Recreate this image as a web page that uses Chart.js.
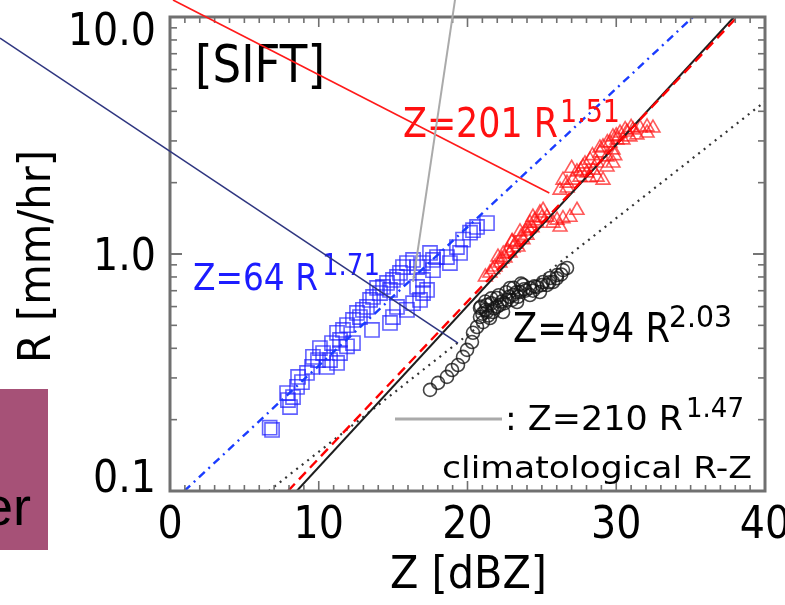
<!DOCTYPE html>
<html lang="en">
<head>
<meta charset="UTF-8">
<title>SIFT R-Z</title>
<script src="https://cdn.jsdelivr.net/npm/chart.js"></script>
<style>
  body { margin: 0; background: #fff; }
</style>
</head>
<body>
<canvas id="rzChart" width="785" height="605"></canvas>
<script>
    // Z [dBZ] / R [mm/hr] pairs per rain type
    const zBlue = [6.86,6.7,8.07,7.93,8.27,7.87,8.54,8.87,8.61,9.21,9.55,9.95,9.61,10.29,10.08,10.76,11.23,10.55,10.89,11.43,11.23,11.63,11.9,12.3,12.77,12.57,12.97,13.24,13.58,12.3,11.9,11.43,13.45,13.65,14.12,13.92,14.32,14.59,14.79,14.99,15.26,15.46,15.66,15.93,16.34,14.99,14.79,15.93,15.26,16.81,16.34,17.28,16.61,17.01,17.68,17.68,17.01,17.48,17.95,18.62,19.29,19.7,20.17,20.64,21.31,20.37,19.5,18.82,17.01,16.61];
    const rBlue = [0.181,0.185,0.226,0.242,0.249,0.259,0.275,0.288,0.303,0.315,0.334,0.357,0.368,0.382,0.401,0.357,0.347,0.334,0.421,0.434,0.465,0.478,0.501,0.527,0.542,0.564,0.581,0.598,0.478,0.421,0.408,0.382,0.64,0.659,0.684,0.719,0.726,0.755,0.705,0.777,0.8,0.832,0.881,0.916,0.944,0.542,0.512,0.581,0.598,0.64,0.62,0.705,0.881,0.916,0.944,0.855,0.777,1.01,0.971,0.971,1.07,1.15,1.23,1.3,1.35,1.26,1.01,0.916,0.684,0.726];

    const zRed = [21.51,21.85,22.18,22.52,22.05,22.86,23.06,23.39,22.99,23.73,24.0,23.53,24.34,24.67,24.4,24.87,25.08,25.34,26.02,26.42,26.89,27.36,26.22,25.75,26.22,26.69,27.09,26.42,27.56,27.36,28.03,27.76,28.44,28.24,28.71,29.11,28.91,29.38,29.11,29.58,29.78,30.05,29.38,29.78,28.71,30.25,30.72,31.13,31.6,32.07,32.47,30.92,31.39,30.45,29.78,32.07,21.2,22.4,23.2,23.9,24.2,
                  21.7,22.3,22.7,23.0,23.6,24.1,24.5,25.0,27.0,27.9,28.4,28.9,29.4,30.0,30.6,31.0,27.6,28.2,26.7,29.9];
    const rRed = [0.832,0.881,0.916,0.963,0.971,1.01,1.06,1.07,1.12,1.15,1.2,1.24,1.29,1.35,1.43,1.49,1.53,1.43,1.39,1.41,1.43,1.53,1.3,1.35,1.86,1.99,2.05,2.05,2.11,2.22,2.2,2.33,2.26,2.49,2.42,2.05,2.67,2.57,2.83,2.94,2.75,3.03,2.33,2.42,2.11,3.24,3.27,3.34,3.4,3.44,3.4,3.12,3.18,3.03,3.12,3.24,0.8,1.0,1.1,1.25,1.35,
                  0.86,0.95,1.03,1.13,1.18,1.28,1.38,1.42,2.3,2.4,2.6,2.8,2.95,3.15,3.35,3.42,2.25,2.1,1.9,2.6];

    const zBlack = [17.48,18.02,18.62,18.96,19.36,19.7,19.97,20.3,20.37,20.64,20.84,20.84,21.31,21.71,22.18,22.66,23.06,23.53,24.2,24.67,25.08,25.55,26.02,26.42,26.69,21.98,22.86,23.73,21.51,22.39,23.33,24.2,24.87,25.34,25.75,21.04,21.2,21.6,22.0,22.5,23.0,23.4,23.9,24.4,25.0,25.5,26.0,26.3,21.0,21.4,
                    21.3,21.8,22.3,22.8,23.3,23.8,24.5,21.6,22.1,22.6,23.1,23.6,20.9,21.2];
    const rBlack = [0.267,0.286,0.303,0.324,0.34,0.368,0.394,0.425,0.465,0.492,0.542,0.592,0.61,0.569,0.61,0.64,0.671,0.691,0.719,0.726,0.762,0.792,0.815,0.855,0.873,0.652,0.719,0.74,0.537,0.569,0.627,0.671,0.691,0.74,0.762,0.516,0.58,0.62,0.6,0.62,0.64,0.66,0.7,0.7,0.74,0.76,0.79,0.82,0.56,0.55,
                    0.57,0.59,0.63,0.66,0.69,0.71,0.73,0.65,0.67,0.69,0.72,0.75,0.6,0.63];

    // fitted power laws, end points inside the frame
    const fitBlueZ = [0.96, 35.16],  fitBlueR = [0.1, 10];    // Z=64 R^1.71
    const fitRedZ = [7.93, 38.13],   fitRedR = [0.1, 10];     // Z=201 R^1.51
    const fitBlackZ = [6.64, 40],    fitBlackR = [0.1, 4.4];  // Z=494 R^2.03
    const climZ = [8.52, 37.92],     climR = [0.1, 10];       // Z=210 R^1.47

    const xTicks = [0, 10, 20, 30, 40];
    const yTicks = [0.1, 1, 10];
    const yTickText = ['0.1', '1.0', '10.0'];

    // pointer lines (from, to) in Z / R
    const pointers = [
        { from: [0.2, 11.8], to: [25.5, 1.81], color: '#ff1a1a', w: 1.6 },
        { from: [-11.43, 8.15], to: [19.36, 0.421], color: '#2f3680', w: 1.6 },
        { from: [19.16, 11.8], to: [16.34, 0.762], color: '#aaaaaa', w: 2 }
    ];

    function pts(zs, rs) {
        return zs.map(function (z, i) { return { x: z, y: rs[i] }; });
    }

    const FONT = '"DejaVu Sans"';

    // draw text squeezed/stretched to a given width
    function textW(ctx, str, x, y, size, width, color) {
        ctx.save();
        ctx.font = size + 'px ' + FONT;
        const w = ctx.measureText(str).width;
        ctx.translate(x, y);
        ctx.scale(width / w, 1);
        ctx.fillStyle = color || '#000';
        ctx.textAlign = 'left';
        ctx.textBaseline = 'alphabetic';
        ctx.fillText(str, 0, 0);
        ctx.restore();
    }

    // draw text with a fixed horizontal scale, aligned left/center/right
    function textS(ctx, str, x, y, size, sx, align) {
        ctx.save();
        ctx.font = size + 'px ' + FONT;
        const w = ctx.measureText(str).width * sx;
        let x0 = x;
        if (align === 'center') x0 = x - w / 2;
        if (align === 'right') x0 = x - w;
        ctx.translate(x0, y);
        ctx.scale(sx, 1);
        ctx.fillStyle = '#000';
        ctx.textBaseline = 'alphabetic';
        ctx.fillText(str, 0, 0);
        ctx.restore();
    }

    function seg(ctx, x1, y1, x2, y2) {
        ctx.beginPath();
        ctx.moveTo(x1, y1);
        ctx.lineTo(x2, y2);
        ctx.stroke();
    }

    const frame = {
        id: 'frame',
        afterDatasetsDraw: function (chart) {
            const ctx = chart.ctx, a = chart.chartArea;
            const x = chart.scales.x, y = chart.scales.y;
            ctx.save();
            ctx.strokeStyle = '#707070';
            ctx.lineWidth = 1.6;
            // inward ticks, every 1 dBZ
            for (let v = 0; v <= 40; v++) {
                const px = x.getPixelForValue(v);
                const len = v % 10 ? 6 : 10;
                seg(ctx, px, a.bottom, px, a.bottom - len);
                seg(ctx, px, a.top, px, a.top + len);
            }
            // log ticks on both sides
            [0.1, 1].forEach(function (d) {
                for (let k = 1; k <= 10; k++) {
                    const py = y.getPixelForValue(d * k);
                    const len = (k === 1 || k === 10) ? 12 : 7;
                    seg(ctx, a.left, py, a.left + len, py);
                    seg(ctx, a.right, py, a.right - len, py);
                }
            });
            ctx.lineWidth = 3;
            ctx.strokeRect(a.left, a.top, a.width, a.height);
            ctx.restore();
        },
        afterDraw: function (chart) {
            const ctx = chart.ctx, a = chart.chartArea;
            const x = chart.scales.x, y = chart.scales.y;

            // tick labels; end labels nudged toward the middle
            xTicks.forEach(function (v) {
                textS(ctx, String(v), x.getPixelForValue(v), a.bottom + 47, 44, 0.9, 'center');
            });
            const nudge = [1, 16, 28];
            yTicks.forEach(function (v, i) {
                textS(ctx, yTickText[i], a.left - 14, y.getPixelForValue(v) + nudge[i], 44, 0.9, 'right');
            });

            // axis titles
            textW(ctx, 'Z [dBZ]', 390, 588, 45, 157);
            ctx.save();
            ctx.translate(50, 363);
            ctx.rotate(-Math.PI / 2);
            textW(ctx, 'R [mm/hr]', 0, 0, 45, 213);
            ctx.restore();

            // panel tag and fit labels
            textW(ctx, '[SIFT]', 195, 82, 52, 130);
            textW(ctx, 'Z=64 R', 193, 290, 38, 125, '#1c1cff');
            textW(ctx, '1.71', 322, 275, 30, 58, '#1c1cff');
            textW(ctx, 'Z=201 R', 403, 137, 41, 155, '#ff1010');
            textW(ctx, '1.51', 560, 122, 32, 60, '#ff1010');
            textW(ctx, 'Z=494 R', 513, 342, 41, 157);
            textW(ctx, '2.03', 669, 327, 31, 63);

            // climatological relation key
            ctx.save();
            ctx.strokeStyle = '#aaaaaa';
            ctx.lineWidth = 3;
            seg(ctx, 395, 419, 502, 419);
            ctx.restore();
            textW(ctx, ': Z=210 R', 505, 430, 34, 178);
            textW(ctx, '1.47', 686, 417, 27, 58);
            textW(ctx, 'climatological R-Z', 442, 478, 30, 310);

            // pointer lines over the plot
            ctx.save();
            pointers.forEach(function (p) {
                ctx.strokeStyle = p.color;
                ctx.lineWidth = p.w;
                seg(ctx, x.getPixelForValue(p.from[0]), y.getPixelForValue(p.from[1]),
                    x.getPixelForValue(p.to[0]), y.getPixelForValue(p.to[1]));
            });
            ctx.restore();

            // side box of the slide
            ctx.save();
            ctx.fillStyle = '#a65177';
            ctx.fillRect(0, 389, 48, 161);
            ctx.fillStyle = '#000';
            ctx.font = '54px "Liberation Sans"';
            ctx.textAlign = 'right';
            ctx.fillText('er', 31, 525);
            ctx.restore();
        }
    };

    function fitLine(zs, rs, color, dash, width) {
        return {
            data: pts(zs, rs),
            showLine: true,
            pointRadius: 0,
            borderColor: color,
            borderWidth: width,
            borderDash: dash,
            fill: false,
            order: 0
        };
    }

    const ctx = document.getElementById('rzChart');
    new Chart(ctx, {
        type: 'scatter',
        data: {
            datasets: [
                fitLine(fitBlueZ, fitBlueR, '#1a3cff', [8, 5, 2, 5], 2.4),
                fitLine(fitRedZ, fitRedR, '#ff0000', [10, 6], 2.4),
                fitLine(climZ, climR, '#1e1e1e', [], 2),
                fitLine(fitBlackZ, fitBlackR, '#333333', [2, 5], 2.2),
                {
                    data: pts(zBlue, rBlue),
                    pointStyle: 'rect',
                    pointRadius: 10,
                    pointBorderWidth: 1.6,
                    borderColor: 'rgba(30,30,255,0.7)',
                    backgroundColor: 'rgba(0,0,0,0)',
                    order: 1
                },
                {
                    data: pts(zRed, rRed),
                    pointStyle: 'triangle',
                    pointRadius: 8,
                    pointBorderWidth: 1.6,
                    borderColor: 'rgba(255,20,20,0.7)',
                    backgroundColor: 'rgba(0,0,0,0)',
                    order: 1
                },
                {
                    data: pts(zBlack, rBlack),
                    pointStyle: 'circle',
                    pointRadius: 6.5,
                    pointBorderWidth: 1.6,
                    borderColor: 'rgba(20,20,20,0.8)',
                    backgroundColor: 'rgba(0,0,0,0)',
                    order: 1
                }
            ]
        },
        options: {
            responsive: false,
            animation: false,
            layout: { padding: { left: 170, right: 20, top: 17, bottom: 114 } },
            plugins: {
                legend: { display: false },
                tooltip: { enabled: false }
            },
            scales: {
                x: { type: 'linear', min: 0, max: 40, display: false },
                y: { type: 'logarithmic', min: 0.1, max: 10, display: false }
            }
        },
        plugins: [frame]
    });
</script>
</body>
</html>
